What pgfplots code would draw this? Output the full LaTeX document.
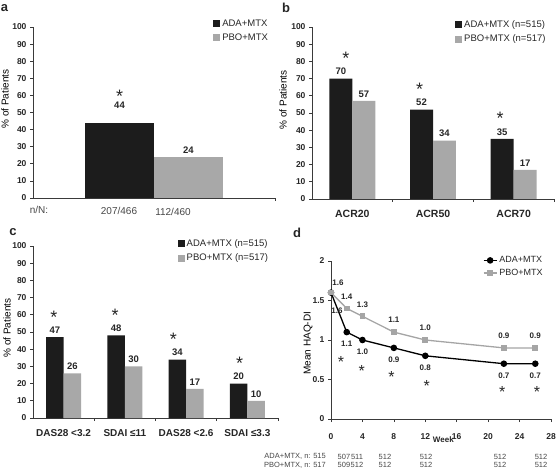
\documentclass[border=0pt]{standalone}
\usepackage{pgfplots}
\pgfplotsset{compat=1.18}
\usepackage{fontspec}
\setmainfont{Liberation Sans}
\newcommand\fs[1]{\fontsize{#1}{#1}\selectfont}
\definecolor{barblk}{HTML}{1C1C1C}
\definecolor{bargray}{HTML}{A8A8A8}
\definecolor{linegray}{HTML}{A5A5A5}
\definecolor{axcol}{HTML}{3A3A3A}
\definecolor{txt}{HTML}{262626}
\tikzset{astk/.style={anchor=base, font=\fs{18}, text=txt, inner sep=0pt}}
\pgfplotsset{
  base/.style={
    scale only axis, anchor=south west, clip=false,
    axis x line*=bottom, axis y line*=left,
    axis line style={axcol, line width=0.7pt, -},
    every tick/.style={axcol, line width=0.7pt},
    tick align=outside, major tick length=3pt,
    tick label style={font=\bfseries\fs{8.5}, text=txt},
    /pgf/number format/assume math mode=true,
    ylabel style={font=\bfseries\fs{9.5}, text=txt},
    legend cell align=left,
  },
  barax/.style={
    base, ybar=0pt, bar width=0.285,
    ymin=0, ymax=100, ytick={0,10,...,100},
    nodes near coords,
    every node near coord/.append style={font=\bfseries\fs{9.5}, text=txt},
    x tick label style={font=\bfseries\fs{10.5}, yshift=-7.5pt},
    legend style={draw=none, fill=none, inner sep=0pt, row sep=2pt, font=\fs{9.5}, text=txt, anchor=north west},
    /tikz/every even column/.append style={column sep=2pt},
  },
  blk/.style={fill=barblk, draw=none, legend image code/.code={\fill[barblk] (0pt,-3.5pt) rectangle (7pt,3.5pt);}},
  gry/.style={fill=bargray, draw=none, legend image code/.code={\fill[bargray] (0pt,-3.5pt) rectangle (7pt,3.5pt);}},
}
\begin{document}
\begin{tikzpicture}
\useasboundingbox (0,0) rectangle (556pt,469pt);
% ---------------- panel a
\begin{axis}[barax, at={(33pt,271pt)}, width=242pt, height=171pt,
  xmin=-0.5, xmax=0.5, xtick={0.5}, xticklabels={},
  ylabel={\% of Patients},
  every axis y label/.style={at={([xshift=-28pt]axis description cs:0,0.579)}, rotate=90, anchor=center},
  legend style={at={(0.744,1.055)}}]
\addplot[blk, every node near coord/.append style={yshift=11pt}] coordinates {(0,44)};
\addplot[gry] coordinates {(0,24)};
\legend{ADA+MTX, PBO+MTX}
\node[astk, yshift=20.5pt] at (axis cs:-0.1425,44) {*};
\end{axis}
\node[font=\fs{10}, text=txt!85] at (39pt,259pt) {n/N:};
\node[font=\fs{10}, text=txt!85] at (119pt,258pt) {207/466};
\node[font=\fs{10}, text=txt!85] at (173pt,257pt) {112/460};
% ---------------- panel b
\begin{axis}[barax, at={(312pt,270pt)}, width=242pt, height=172pt,
  xmin=-0.5, xmax=2.5, xtick={0.5,1.5,2.5}, xticklabels={},
  extra x ticks={0,1,2}, extra x tick labels={ACR20,ACR50,ACR70},
  extra x tick style={major tick length=0pt},
  ylabel={\% of Patients},
  every axis y label/.style={at={([xshift=-29pt]axis description cs:0,0.576)}, rotate=90, anchor=center},
  legend style={at={(0.591,1.051)}}]
\addplot[blk] coordinates {(0,70) (1,52) (2,35)};
\addplot[gry] coordinates {(0,57) (1,34) (2,17)};
\legend{ADA+MTX (n=515), PBO+MTX (n=517)}
\node[astk, yshift=14pt, xshift=5pt] at (axis cs:-0.1425,70) {*};
\node[astk, yshift=14pt, xshift=-2pt] at (axis cs:0.8575,52) {*};
\node[astk, yshift=14pt, xshift=-2pt] at (axis cs:1.8575,35) {*};
\end{axis}
% ---------------- panel c
\begin{axis}[barax, at={(33pt,51pt)}, width=245pt, height=172pt,
  xmin=-0.5, xmax=3.5, xtick={0.5,1.5,2.5,3.5}, xticklabels={},
  extra x ticks={0,1,2,3}, extra x tick labels={DAS28 <3.2, SDAI ≤11, DAS28 <2.6, SDAI ≤3.3},
  extra x tick style={major tick length=0pt},
  x tick label style={font=\bfseries\fs{10}},
  ylabel={\% of Patients},
  every axis y label/.style={at={([xshift=-26pt]axis description cs:0,0.523)}, rotate=90, anchor=center},
  legend style={at={(0.59,1.051)}}]
\addplot[blk] coordinates {(0,47) (1,48) (2,34) (3,20)};
\addplot[gry] coordinates {(0,26) (1,30) (2,17) (3,10)};
\legend{ADA+MTX (n=515), PBO+MTX (n=517)}
\node[astk, yshift=14pt, xshift=-1pt] at (axis cs:-0.1425,47) {*};
\node[astk, yshift=14pt, xshift=-1pt] at (axis cs:0.8575,48) {*};
\node[astk, yshift=14pt, xshift=-4pt] at (axis cs:1.8575,34) {*};
\node[astk, yshift=14pt, xshift=1pt] at (axis cs:2.8575,20) {*};
\end{axis}
% ---------------- panel d
\begin{axis}[base, at={(331pt,50pt)}, width=220pt, height=158pt,
  xmin=0, xmax=28, ymin=0, ymax=2,
  xtick={0,4,...,28}, ytick={0,0.5,1,1.5,2},
  x tick label style={yshift=-8pt},
  ylabel={Mean HAQ-DI},
  every axis y label/.style={at={([xshift=-23pt]axis description cs:0,0.48)}, rotate=90, anchor=center},
  legend style={at={(0.69,1.042)}, anchor=north west, draw=none, fill=none, inner sep=0pt, row sep=1pt, font=\fs{9}, text=txt},
  legend image code/.code={\draw[mark repeat=2,mark phase=2,#1] plot coordinates {(0pt,0pt) (6.5pt,0pt) (13pt,0pt)};},
  /tikz/every even column/.append style={column sep=1pt}]
\addplot[color=black, line width=1.3pt, mark=*, mark size=2.6pt] coordinates {(0,1.6) (2,1.1) (4,1.0) (8,0.9) (12,0.8) (22,0.7) (26,0.7)};
\addplot[color=linegray, line width=1.3pt, mark=square*, mark size=2.2pt] coordinates {(0,1.6) (2,1.4) (4,1.3) (8,1.1) (12,1.0) (22,0.9) (26,0.9)};
\legend{ADA+MTX, PBO+MTX}
\addplot[draw=none, forget plot, nodes near coords, point meta=explicit symbolic,
  every node near coord/.style={anchor=center, yshift=-12pt, font=\bfseries\fs{8}, text=txt}]
  coordinates {(2,1.1)[1.1] (4,1.0)[1.0] (8,0.9)[0.9] (12,0.8)[0.8] (22,0.7)[0.7] (26,0.7)[0.7]};
\addplot[draw=none, forget plot, nodes near coords, point meta=explicit symbolic,
  every node near coord/.style={anchor=center, yshift=12pt, font=\bfseries\fs{8}, text=txt}]
  coordinates {(2,1.4)[1.4] (4,1.3)[1.3] (8,1.1)[1.1] (12,1.0)[1.0] (22,0.9)[0.9] (26,0.9)[0.9]};
\node[font=\bfseries\fs{8}, text=txt, xshift=7pt, yshift=10pt] at (axis cs:0,1.6) {1.6};
\node[font=\bfseries\fs{8}, text=txt, xshift=6pt, yshift=-18pt] at (axis cs:0,1.6) {1.6};
\node[astk, font=\fs{16}, yshift=-9pt] at (axis cs:1.26,0.772) {*};
\node[astk, font=\fs{16}, yshift=-9pt] at (axis cs:3.9,0.646) {*};
\node[astk, font=\fs{16}, yshift=-9pt] at (axis cs:7.7,0.582) {*};
\node[astk, font=\fs{16}, yshift=-9pt] at (axis cs:12.2,0.456) {*};
\node[astk, font=\fs{16}, yshift=-9pt] at (axis cs:21.8,0.392) {*};
\node[astk, font=\fs{16}, yshift=-9pt] at (axis cs:26.2,0.392) {*};
\node[font=\bfseries\fs{8}, text=txt] at ([yshift=-21pt]axis cs:14.3,0) {Week};
\end{axis}
% rows under panel d
\begin{scope}[every node/.style={font=\fs{7.5}, text=txt!85, inner sep=0pt}]
\node[anchor=east] at (326pt,12.5pt) {ADA+MTX, n: 515};
\node at (344pt,12.5pt) {507};
\node at (357pt,12.5pt) {511};
\node at (385pt,12.5pt) {512};
\node at (426pt,12.5pt) {512};
\node at (500pt,12.5pt) {512};
\node at (541pt,12.5pt) {512};
\node[anchor=east] at (326pt,4pt) {PBO+MTX, n: 517};
\node at (344pt,4pt) {509};
\node at (357pt,4pt) {512};
\node at (385pt,4pt) {512};
\node at (426pt,4pt) {512};
\node at (500pt,4pt) {512};
\node at (541pt,4pt) {512};
\end{scope}
% panel letters
\node[font=\bfseries\fs{13}, text=txt] at (4.5pt,460.5pt) {a};
\node[font=\bfseries\fs{13}, text=txt] at (286pt,461.5pt) {b};
\node[font=\bfseries\fs{13}, text=txt] at (13pt,237pt) {c};
\node[font=\bfseries\fs{13}, text=txt] at (297pt,236.5pt) {d};
\end{tikzpicture}
\end{document}
